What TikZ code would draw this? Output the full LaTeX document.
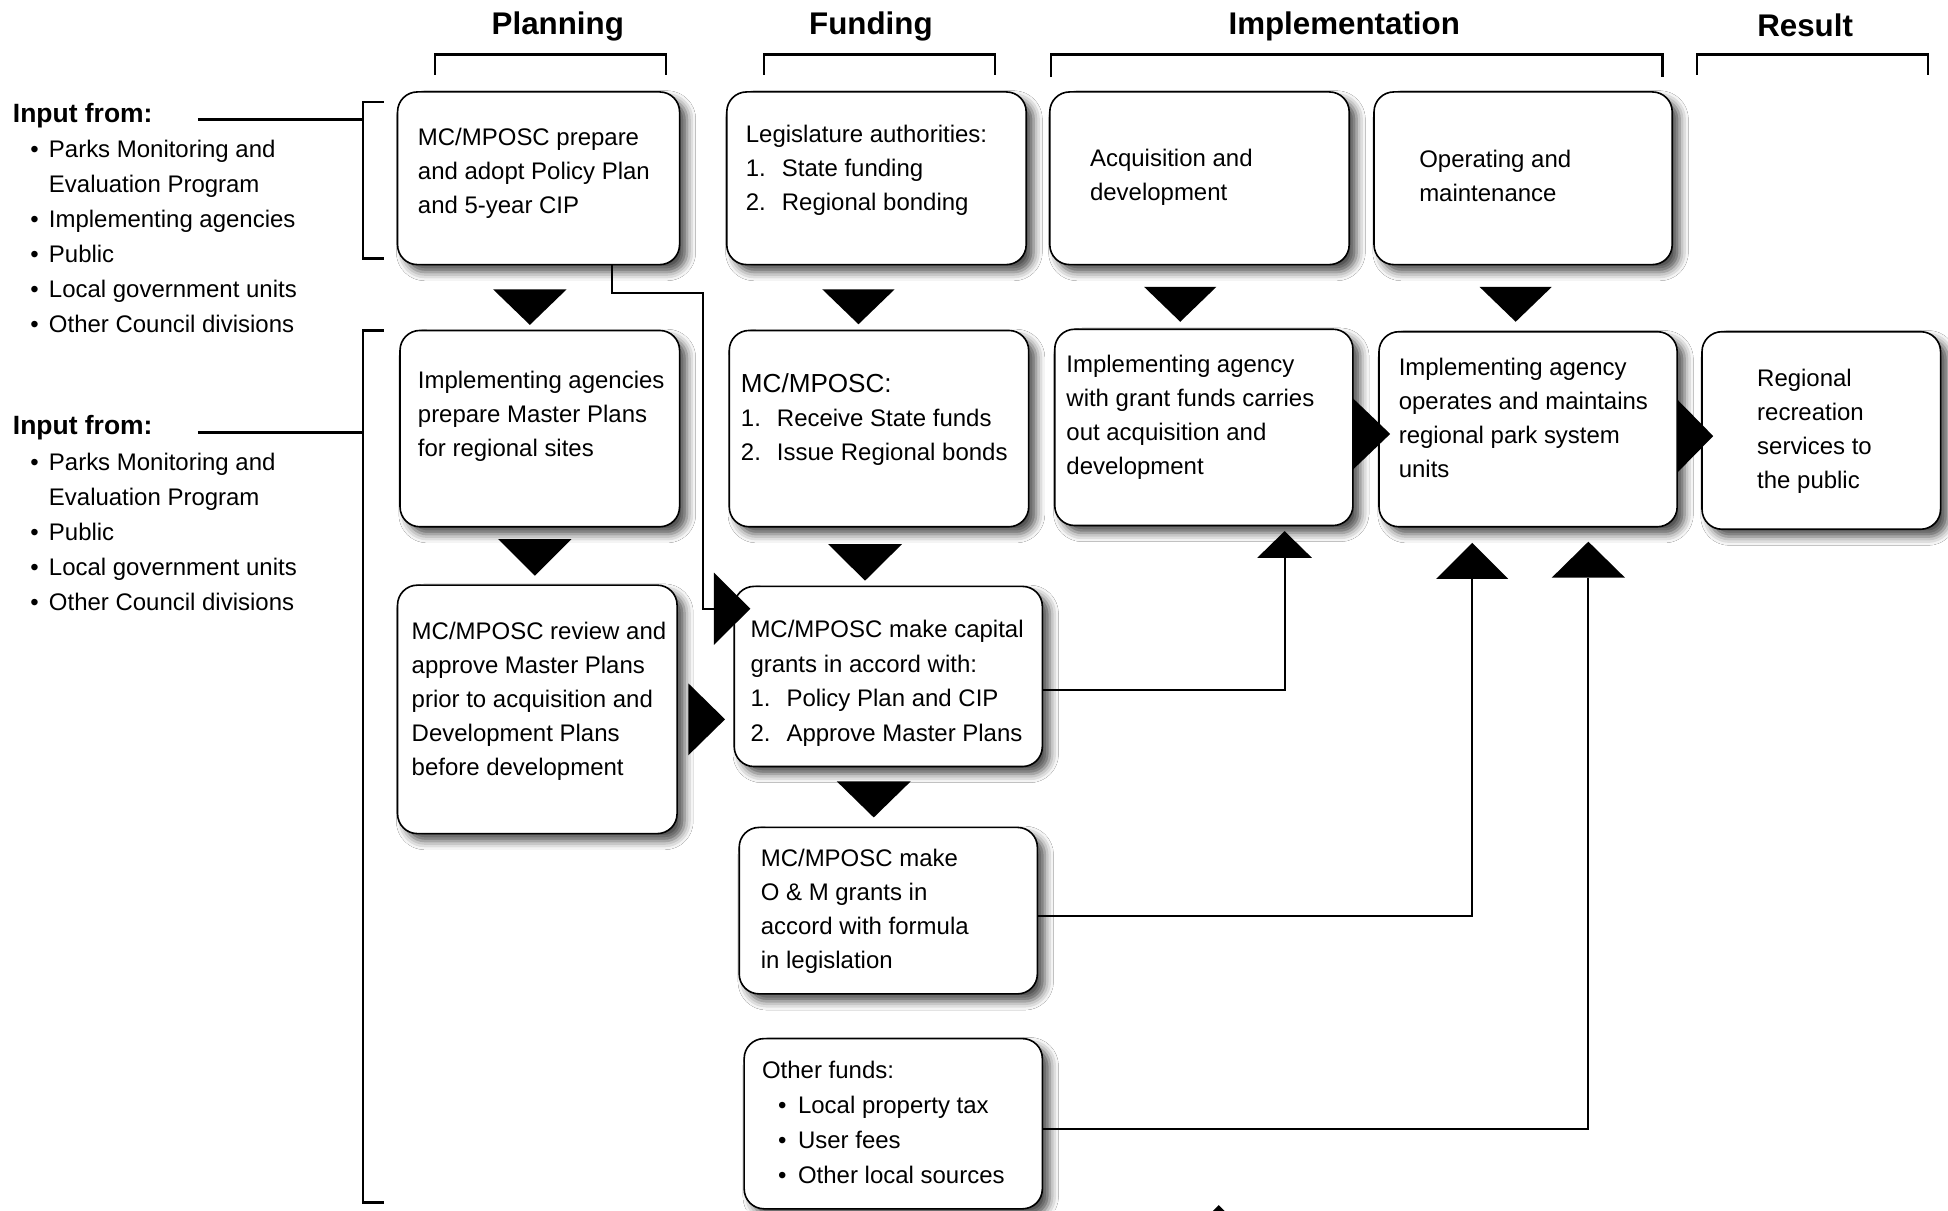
\documentclass[tikz,border=0pt]{standalone}
\usepackage{fontspec}
\setmainfont{Liberation Sans}
\usetikzlibrary{fit,calc,shadows.blur}

\newcommand{\bodyfont}{\fontsize{9.65}{13.7}\selectfont}
\newcommand{\tl}[1]{\begin{tabular}[t]{@{}l@{}}#1\end{tabular}}
\newcommand{\nm}[1]{\makebox[14.5pt][l]{#1}}
\newcommand{\bul}[1][7.5pt]{\makebox[#1][l]{•}}
\newcommand{\dtri}[4]{\fill[tri] (#1-#3,#2) -- (#1+#3,#2) -- (#1,#2+#4) -- cycle;}
\newcommand{\utri}[4]{\fill[tri] (#1-#3,#2) -- (#1+#3,#2) -- (#1,#2-#4) -- cycle;}
\newcommand{\rtri}[4]{\fill[tri] (#1,#2-#3) -- (#1,#2+#3) -- (#1+#4,#2) -- cycle;}

\tikzset{
  box/.style={draw, line width=0.65pt, rounded corners=8pt, fill=white, inner sep=0pt,
    blur shadow={shadow xshift=3pt, shadow yshift=-3pt, shadow blur radius=3.5pt, shadow opacity=70}},
  txt/.style={inner sep=0pt, anchor=base west, font=\bodyfont},
  head/.style={inner sep=0pt, anchor=base, font=\fontsize{12.6}{15}\selectfont\bfseries},
  infrom/.style={inner sep=0pt, anchor=base west, font=\fontsize{10.65}{13}\selectfont\bfseries},
  conn/.style={line width=0.8pt},
  brk/.style={line width=1pt},
  tri/.style={fill=black},
}

\begin{document}
\begin{tikzpicture}[x=0.5pt,y=-0.5pt]
\path[fill=white] (0,0) rectangle (1568,974);
\useasboundingbox (0,0) rectangle (1568,974);

% headings
\node[head] (hp) at (449,28) {Planning};
\node[head] (hf) at (701,28) {Funding};
\node[head] (hi) at (1082,28) {Implementation};
\node[head] (hr) at (1453,29) {Result};
\draw[brk] (350,60) -- (350,44) -- (536,44) -- (536,60);
\draw[brk] (615,60) -- (615,44) -- (801,44) -- (801,60);
\draw[brk] (846,62) -- (846,44) -- (1338,44) -- (1338,62);
\draw[brk] (1366,60) -- (1366,44) -- (1552,44) -- (1552,60);

% left inputs
\node[infrom] (in1) at (10,99) {Input from:};
\node[txt, font=\fontsize{9.65}{14.1}\selectfont] (l1) at (24,127) {\tl{\bul Parks Monitoring and\\ \hspace*{7.5pt}Evaluation Program\\ \bul Implementing agencies\\ \bul Public\\ \bul Local government units\\ \bul Other Council divisions}};
\coordinate (k1) at (292,96);
\draw[brk] ([xshift=18pt]in1.east |- k1) -- (k1);
\draw[brk] (309,82) -- (292,82) -- (292,208) -- (309,208);

\node[infrom] (in2) at (10,350) {Input from:};
\node[txt, font=\fontsize{9.65}{14.1}\selectfont] (l2) at (24,379) {\tl{\bul Parks Monitoring and\\ \hspace*{7.5pt}Evaluation Program\\ \bul Public\\ \bul Local government units\\ \bul Other Council divisions}};
\coordinate (k2) at (292,348);
\draw[brk] ([xshift=18pt]in2.east |- k2) -- (k2);
\draw[brk] (309,266) -- (292,266) -- (292,968) -- (309,968);

% boxes
\node[box, fit={(320,74)(547,213)}] (b1) {};
\node[box, fit={(585,74)(826,213)}] (b2) {};
\node[box, fit={(845,74)(1086,213)}] (b3) {};
\node[box, fit={(1106,74)(1346,213)}] (b4) {};
\node[box, fit={(322,266)(547,424)}] (b5) {};
\node[box, fit={(587,266)(828,424)}] (b6) {};
\node[box, fit={(849,265)(1089,423)}] (b7) {};
\node[box, fit={(1110,267)(1350,424)}] (b8) {};
\node[box, fit={(1370,267)(1562,426)}] (b9) {};
\node[box, fit={(320,471)(545,671)}] (b10) {};
\node[box, fit={(591,472)(839,617)}] (b11) {};
\node[box, fit={(595,666)(835,800)}] (b12) {};
\node[box, fit={(599,836)(839,973)}] (b13) {};

% box texts
\node[txt] (t1) at (336,117) {\tl{MC/MPOSC prepare\\and adopt Policy Plan\\and 5-year CIP}};
\node[txt] (t2) at (600,115) {\tl{Legislature authorities:\\\nm{1.}State funding\\\nm{2.}Regional bonding}};
\node[txt] (t3) at (877,134) {\tl{Acquisition and\\development}};
\node[txt] (t4) at (1142,135) {\tl{Operating and\\maintenance}};
\node[txt] (t5) at (336,313) {\tl{Implementing agencies\\prepare Master Plans\\for regional sites}};
\node[txt] (t6) at (596,316) {\tl{{\fontsize{10.5}{13.7}\selectfont MC/MPOSC:}\\\nm{1.}Receive State funds\\\nm{2.}Issue Regional bonds}};
\node[txt] (t7) at (858,300) {\tl{Implementing agency\\with grant funds carries\\out acquisition and\\development}};
\node[txt] (t8) at (1125.5,302) {\tl{Implementing agency\\operates and maintains\\regional park system\\units}};
\node[txt] (t9) at (1414,311) {\tl{Regional\\recreation\\services to\\the public}};
\node[txt] (t10) at (331,515) {\tl{MC/MPOSC review and\\approve Master Plans\\prior to acquisition and\\Development Plans\\before development}};
\node[txt, font=\fontsize{9.65}{14}\selectfont] (t11) at (603.7,513) {\tl{MC/MPOSC make capital\\grants in accord with:\\\nm{1.}Policy Plan and CIP\\\nm{2.}Approve Master Plans}};
\node[txt] (t12) at (612,697.6) {\tl{MC/MPOSC make\\O \& M grants in\\accord with formula\\in legislation}};
\node[txt, font=\fontsize{9.65}{14.15}\selectfont] (t13) at (613,868) {\tl{Other funds:\\\hspace*{6.5pt}\bul[8pt]Local property tax\\\hspace*{6.5pt}\bul[8pt]User fees\\\hspace*{6.5pt}\bul[8pt]Other local sources}};

% down arrows
\dtri{426.5}{233}{29.5}{28.5}
\dtri{691}{233}{29}{28}
\dtri{950}{231}{29}{28}
\dtri{1220}{231}{29}{28}
\dtri{430.5}{434}{29.5}{29.4}
\dtri{696.3}{438}{29.7}{29.4}
\dtri{703.3}{629}{29.7}{29}

% right arrows
\rtri{1089}{349.3}{28.7}{30}
\rtri{1350.5}{351}{29}{28.5}
\rtri{554}{579}{29}{29.6}
\rtri{574.7}{490}{29}{29.3}

% up arrows
\utri{1034}{449}{22}{21.5}
\utri{1185}{466}{29}{29}
\utri{1278.5}{465}{29.5}{29}
\utri{981}{975}{5}{5}

% connectors
\coordinate (r4) at (574.7,490);
\coordinate (u1) at (1034,449);
\coordinate (u2) at (1185,466);
\coordinate (u3) at (1278.5,465);
\draw[conn] ([xshift=29.5pt]b1.south) |- (566,235.6) |- (r4);
\draw[conn] ([yshift=-5.3pt]b11.east) -| (u1);
\draw[conn] ([yshift=-2pt]b12.east) -| (u2);
\draw[conn] ([yshift=-2.25pt]b13.east) -| (u3);
\end{tikzpicture}
\end{document}
